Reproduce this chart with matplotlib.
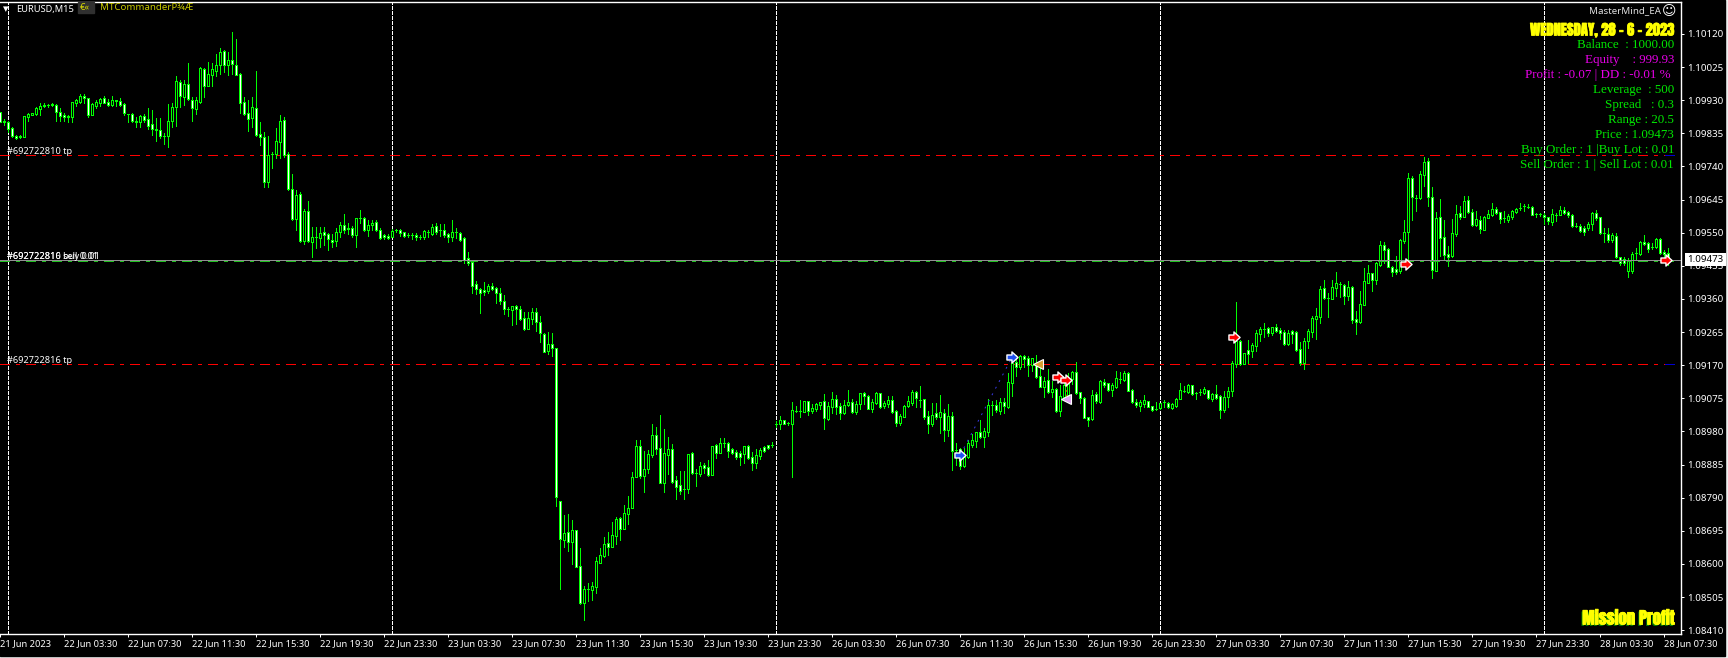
#!/usr/bin/env python3
import numpy as np
import matplotlib
matplotlib.use("Agg")
import matplotlib.pyplot as plt
import matplotlib.patheffects as pe
from matplotlib.path import Path
from matplotlib.patches import Rectangle

# M15 candles, prices as 1 + value / 1e5
opens = [9897,9870,9867,9851,9827,9827,9823,9883,9887,9890,9906,9912,9915,9918,9916,9897,
	9887,9884,9881,9921,9926,9942,9935,9888,9914,9921,9935,9925,9915,9930,9928,9918,
	9889,9891,9870,9868,9886,9875,9861,9846,9845,9828,9826,9870,9910,9982,9940,9977,
	9931,9906,9926,10019,9972,10002,10014,10031,10071,10031,10044,10031,10005,9925,9892,9879,
	9907,9832,9824,9694,9776,9776,9811,9873,9775,9674,9588,9660,9527,9611,9524,9537,
	9535,9551,9545,9529,9525,9552,9571,9563,9564,9543,9591,9591,9558,9571,9580,9558,
	9542,9541,9539,9558,9558,9551,9543,9542,9543,9539,9539,9551,9546,9569,9557,9558,
	9545,9537,9551,9550,9534,9477,9466,9403,9389,9386,9383,9397,9392,9377,9354,9331,
	9328,9340,9331,9306,9274,9303,9323,9294,9260,9211,9231,9219,8781,8669,8692,8663,
	8697,8594,8488,8528,8525,8534,8603,8623,8660,8649,8680,8732,8700,8743,8761,8849,
	8938,8852,8872,8913,8970,8933,8832,8913,8930,8841,8827,8815,8815,8918,8861,8858,
	8884,8878,8855,8941,8918,8947,8947,8930,8921,8918,8915,8938,8907,8890,8910,8936,
	8941,8941,9001,9001,9013,9004,9001,9039,9039,9036,9067,9039,9045,9056,9067,9016,
	9050,9073,9053,9033,9056,9065,9036,9059,9090,9082,9045,9062,9090,9053,9059,9070,
	9039,9004,9022,9053,9062,9093,9070,9073,9024,9001,9033,9022,9033,8984,9024,8927,
	8930,8881,8907,8941,8953,8979,8964,8979,9056,9056,9039,9065,9050,9119,9179,9165,
	9196,9191,9171,9171,9139,9108,9128,9093,9102,9039,9079,9085,9131,9151,9093,9076,
	9022,9016,9088,9065,9122,9119,9099,9108,9131,9128,9148,9099,9065,9053,9059,9067,
	9053,9045,9047,9065,9062,9047,9053,9073,9096,9093,9113,9090,9093,9090,9099,9073,
	9088,9082,9042,9079,9096,9174,9240,9174,9214,9211,9225,9260,9274,9277,9262,9280,
	9271,9265,9231,9268,9265,9217,9176,9240,9265,9303,9308,9392,9363,9360,9392,9403,
	9400,9368,9394,9303,9294,9343,9406,9435,9414,9457,9515,9503,9452,9446,9440,9526,
	9552,9707,9650,9650,9716,9756,9653,9440,9595,9538,9489,9483,9546,9607,9595,9644,
	9609,9572,9587,9558,9592,9601,9618,9609,9592,9587,9595,9609,9621,9627,9624,9624,
	9604,9604,9601,9595,9581,9601,9601,9615,9609,9601,9569,9569,9564,9564,9575,9607,
	9595,9549,9546,9529,9541,9480,9475,9440,9440,9492,9489,9523,9520,9509,9509,9532,
	9495,9492]
closes = [9868,9866,9848,9826,9822,9823,9885,9890,9894,9907,9913,9916,9915,9915,9897,9885,
	9883,9882,9924,9931,9942,9935,9888,9918,9925,9934,9923,9917,9931,9927,9915,9892,
	9889,9871,9867,9885,9873,9857,9846,9845,9826,9828,9870,9911,9985,9942,9977,9933,
	9907,9931,10022,9972,10005,10020,10031,10069,10031,10045,10035,10003,9923,9891,9877,9910,
	9831,9824,9694,9773,9776,9814,9870,9773,9674,9590,9658,9527,9613,9525,9537,9537,
	9548,9544,9531,9522,9552,9572,9558,9560,9543,9591,9591,9558,9571,9579,9558,9534,
	9537,9534,9556,9558,9548,9541,9543,9542,9537,9539,9555,9551,9566,9553,9557,9543,
	9537,9551,9551,9529,9472,9462,9397,9389,9377,9380,9397,9389,9377,9354,9331,9331,
	9340,9331,9303,9274,9306,9323,9294,9262,9208,9231,9219,8792,8672,8689,8663,8697,
	8591,8488,8528,8528,8537,8609,8626,8657,8649,8683,8729,8700,8746,8761,8849,8938,
	8852,8872,8915,8970,8930,8832,8918,8930,8835,8821,8809,8815,8915,8861,8861,8881,
	8875,8855,8938,8918,8947,8947,8924,8918,8907,8907,8938,8904,8890,8913,8927,8924,
	8933,8941,9001,9013,9001,9004,9042,9039,9039,9067,9039,9047,9059,9065,9019,9053,
	9073,9050,9033,9056,9065,9036,9059,9090,9082,9045,9065,9090,9050,9062,9070,9036,
	9004,9024,9053,9067,9093,9076,9070,9022,9001,9027,9022,9036,8984,9024,8924,8927,
	8881,8907,8947,8956,8979,8964,8981,9056,9056,9042,9065,9053,9122,9176,9165,9196,
	9188,9171,9191,9136,9108,9125,9093,9102,9039,9082,9113,9125,9151,9090,9076,9019,
	9013,9085,9067,9125,9113,9099,9113,9133,9131,9148,9096,9065,9056,9065,9070,9050,
	9042,9045,9062,9065,9050,9059,9073,9099,9096,9113,9088,9090,9093,9102,9076,9088,
	9076,9042,9079,9096,9176,9240,9174,9205,9202,9228,9262,9274,9274,9262,9280,9268,
	9262,9231,9262,9260,9214,9176,9240,9268,9306,9311,9389,9363,9363,9394,9406,9403,
	9368,9394,9300,9294,9346,9412,9435,9414,9463,9515,9500,9452,9437,9437,9529,9552,
	9707,9653,9650,9718,9753,9653,9443,9592,9535,9486,9480,9549,9604,9595,9641,9609,
	9572,9589,9561,9595,9604,9618,9607,9589,9592,9598,9612,9618,9621,9627,9624,9601,
	9604,9604,9595,9584,9604,9601,9615,9607,9601,9569,9569,9555,9552,9575,9607,9592,
	9549,9549,9529,9543,9480,9463,9463,9469,9489,9492,9523,9518,9503,9509,9532,9492,
	9489,9473]
highs = [9897,9875,9869,9854,9830,9830,9885,9892,9894,9910,9923,9923,9919,9921,9919,9907,
	9892,9888,9926,9933,9948,9948,9937,9921,9931,9937,9942,9934,9942,9931,9935,9921,
	9891,9892,9883,9888,9891,9907,9902,9878,9878,9835,9919,9921,10000,9988,9988,10036,
	9940,9938,10024,10021,10040,10036,10063,10079,10074,10069,10126,10105,10007,9940,9931,9938,
	10014,9868,9840,9827,9780,9849,9888,9883,9782,9718,9673,9668,9617,9641,9565,9565,
	9565,9567,9548,9546,9562,9582,9604,9577,9569,9591,9615,9594,9587,9587,9585,9563,
	9546,9546,9560,9560,9561,9553,9548,9548,9548,9543,9558,9558,9575,9577,9575,9575,
	9548,9587,9563,9553,9537,9496,9466,9412,9392,9409,9403,9406,9394,9392,9371,9337,
	9340,9343,9340,9323,9323,9334,9334,9311,9262,9265,9262,9219,8781,8741,8743,8726,
	8697,8646,8537,8545,8548,8620,8646,8677,8692,8720,8735,8735,8769,8795,8864,8956,
	8956,8924,8927,9001,8993,9027,8987,8964,8944,8852,8867,8867,8915,8921,8872,8892,
	8890,8898,8938,8944,8961,8961,8950,8933,8927,8924,8938,8941,8921,8930,8933,8938,
	8941,8950,9010,9024,9013,9007,9065,9053,9070,9067,9067,9059,9062,9065,9087,9065,
	9093,9085,9062,9070,9099,9073,9067,9090,9093,9085,9073,9093,9090,9067,9082,9082,
	9042,9030,9056,9082,9099,9096,9110,9073,9039,9062,9062,9085,9045,9059,9036,8947,
	8933,8933,8956,8973,8979,9013,8990,9073,9067,9070,9076,9076,9148,9179,9199,9199,
	9199,9196,9191,9199,9176,9136,9159,9125,9105,9113,9133,9148,9153,9179,9093,9079,
	9022,9099,9093,9128,9131,9119,9119,9153,9151,9153,9151,9102,9073,9070,9085,9067,
	9053,9065,9062,9070,9065,9062,9076,9119,9110,9116,9113,9093,9102,9108,9099,9090,
	9113,9085,9096,9108,9182,9351,9242,9205,9242,9234,9271,9280,9291,9280,9280,9288,
	9277,9271,9271,9271,9268,9237,9248,9274,9311,9334,9397,9414,9377,9414,9437,9409,
	9403,9412,9397,9326,9383,9449,9457,9435,9466,9526,9523,9506,9455,9483,9532,9587,
	9721,9713,9658,9727,9767,9764,9681,9609,9647,9587,9512,9589,9630,9627,9655,9655,
	9618,9612,9598,9598,9615,9635,9624,9609,9612,9604,9615,9621,9635,9632,9632,9627,
	9607,9607,9607,9595,9618,9607,9627,9624,9612,9604,9578,9575,9569,9581,9609,9615,
	9595,9564,9564,9549,9549,9480,9480,9478,9495,9506,9526,9543,9523,9520,9535,9535,
	9500,9506]
lows = [9868,9859,9840,9824,9820,9821,9823,9869,9887,9888,9888,9910,9910,9912,9871,9871,
	9871,9866,9866,9913,9921,9923,9883,9888,9907,9913,9921,9912,9912,9913,9912,9888,
	9866,9868,9854,9854,9866,9846,9830,9814,9821,9804,9797,9854,9856,9910,9916,9931,
	9871,9891,9921,9940,9971,9971,10000,10005,10012,10002,10005,10001,9892,9888,9843,9854,
	9827,9802,9680,9680,9735,9763,9763,9768,9673,9585,9558,9522,9518,9523,9481,9505,
	9508,9515,9499,9510,9512,9539,9548,9546,9537,9510,9579,9556,9541,9558,9556,9531,
	9533,9531,9537,9553,9541,9539,9539,9531,9529,9531,9533,9539,9544,9546,9541,9539,
	9524,9527,9534,9527,9462,9457,9377,9374,9320,9371,9377,9386,9349,9346,9317,9311,
	9285,9288,9300,9271,9274,9288,9268,9237,9208,9202,9196,8766,8528,8649,8637,8600,
	8591,8485,8439,8494,8497,8517,8603,8620,8626,8649,8657,8669,8700,8715,8761,8849,
	8847,8806,8861,8907,8915,8832,8806,8858,8832,8786,8801,8786,8804,8858,8824,8852,
	8861,8852,8855,8904,8918,8935,8907,8915,8901,8884,8890,8901,8870,8875,8901,8921,
	8930,8935,8993,8987,9001,8999,8849,9036,9022,9036,9027,9033,9039,9045,8987,9013,
	9033,9030,9016,9030,9053,9033,9030,9045,9059,9045,9036,9059,9047,9047,9050,9033,
	8996,8999,9022,9050,9056,9050,9050,9016,8976,8996,9016,8976,8953,8967,8870,8884,
	8872,8878,8904,8935,8935,8961,8935,8967,9027,9036,9030,9033,9047,9082,9139,9159,
	9165,9139,9153,9133,9108,9079,9090,9079,9036,9024,9079,9082,9116,9088,9062,9019,
	8996,9013,9062,9062,9108,9096,9082,9105,9119,9125,9096,9062,9050,9039,9050,9050,
	9039,9042,9045,9050,9047,9045,9050,9073,9093,9090,9085,9073,9085,9088,9073,9067,
	9073,9019,9036,9050,9082,9165,9171,9174,9176,9194,9211,9240,9251,9254,9257,9265,
	9245,9228,9228,9234,9211,9171,9159,9219,9251,9245,9291,9360,9308,9360,9369,9366,
	9346,9357,9291,9260,9291,9343,9406,9383,9403,9455,9463,9452,9426,9432,9435,9521,
	9466,9587,9612,9647,9684,9627,9420,9440,9483,9472,9455,9480,9541,9589,9595,9607,
	9569,9569,9549,9558,9592,9598,9604,9578,9581,9581,9589,9607,9615,9612,9621,9601,
	9595,9598,9575,9575,9572,9584,9601,9604,9595,9566,9566,9552,9543,9558,9558,9587,
	9546,9523,9523,9523,9478,9457,9457,9423,9435,9475,9486,9515,9495,9503,9506,9489,
	9480,9457]

tick_labels = ["21 Jun 2023",
	"22 Jun 03:30", "22 Jun 07:30", "22 Jun 11:30", "22 Jun 15:30", "22 Jun 19:30", "22 Jun 23:30",
	"23 Jun 03:30", "23 Jun 07:30", "23 Jun 11:30", "23 Jun 15:30", "23 Jun 19:30", "23 Jun 23:30",
	"26 Jun 03:30", "26 Jun 07:30", "26 Jun 11:30", "26 Jun 15:30", "26 Jun 19:30", "26 Jun 23:30",
	"27 Jun 03:30", "27 Jun 07:30", "27 Jun 11:30", "27 Jun 15:30", "27 Jun 19:30", "27 Jun 23:30",
	"28 Jun 03:30", "28 Jun 07:30"]
tick_idx = list(range(0, 417, 16))
day_idx = [2, 98, 194, 290, 386]
price_ticks = [1.10120 - 0.00095 * i for i in range(19)]

tp_prices = [1.09772, 1.09172]
bid_price = 1.09473
entry_price = 1.09470

blue_idx, blue_prices = [240, 253], [1.08913, 1.09194]
red_idx, red_prices = [264.3, 266.4, 308.3, 351.4, 416.4], [1.09135, 1.09127, 1.09250, 1.09459, 1.09472]
gold_idx, gold_prices = [259.4], [1.09172]
pink_idx, pink_prices = [266.4], [1.09072]

panel_lines = [
	("Balance  : 1000.00", "#00e800"),
	("Equity    : 999.93", "#e800e8"),
	("Profit : -0.07 | DD : -0.01 % ", "#e800e8"),
	("Leverage  : 500", "#00e800"),
	("Spread   : 0.3", "#00e800"),
	("Range : 20.5", "#00e800"),
	("Price : 1.09473", "#00e800"),
	("Buy Order : 1 |Buy Lot : 0.01", "#00e800"),
	("Sell Order : 1 | Sell Lot : 0.01", "#00e800"),
]

W, H = 1728, 658
GREEN = "#00ff00"
PX = 0.72  # one pixel in points
NARROW = ["Anton", "Oswald", "Barlow Condensed", "DejaVu Sans"]

plt.rcParams["font.family"] = ["Noto Sans", "DejaVu Sans"]
plt.rcParams["lines.scale_dashes"] = False

fig = plt.figure(figsize=(W / 100, H / 100), dpi=100, facecolor="#f0f0f0")
fig.patches.append(Rectangle((0, 2 / H), 1725 / W, 1 - 2 / H, transform=fig.transFigure, color="black", zorder=-5))

left, right, top, bottom = 0, 1680.5, 1.5, 634
ax = fig.add_axes([left / W, 1 - bottom / H, (right - left) / W, (bottom - top) / H], facecolor="black")

o, h, l, c = [1 + np.array(v) / 1e5 for v in (opens, highs, lows, closes)]
x = np.arange(len(o))
ax.set_xlim(-0.075, 420.05)
ax.set_ylim(1 + 8399 / 1e5, 1 + 10213 / 1e5)

# wicks, then bodies: bulls hollow, bears white
ax.vlines(x, l, h, color=GREEN, lw=PX, antialiased=False, zorder=2)
face = ["black" if cc > oo else "white" for oo, cc in zip(o, c)]
ax.bar(x, c - o, bottom=o, width=0.5, color=face, edgecolor=GREEN, lw=PX, antialiased=False, zorder=3)

# period separators
for k in day_idx:
	ax.axvline(k, color="white", lw=PX, ls=(0, (2.2, 1.4)), antialiased=False, zorder=1)

# order and price levels
dash = (0, (6.48, 4.32, 2.16, 4.32))
for p in tp_prices:
	ax.plot([0, 418.4], [p, p], color="#ff0000", lw=PX, ls=dash, antialiased=False, zorder=1.5)
	ax.plot([416.2, 418.4], [p, p], color="#0000d0", lw=PX, antialiased=False, zorder=1.6)
ax.axhline(bid_price, color="#909090", lw=PX, antialiased=False, zorder=4)
ax.plot([0, 418.4], [entry_price, entry_price], color="#20c020", lw=PX, ls=dash, antialiased=False, zorder=3.5)

# trade arrows
ax.plot(blue_idx, blue_prices, color="#3838e0", lw=PX, ls=(0, (1.4, 4)), zorder=4)
ax.plot([266.4, 266.4], [red_prices[1], pink_prices[0]], color="#ff0000", lw=PX, ls=(0, (1.4, 2)), zorder=4)
arrow = Path([(-1, -0.45), (-0.1, -0.45), (-0.1, -1), (1, 0), (-0.1, 1), (-0.1, 0.45), (-1, 0.45), (-1, -0.45)], closed=True)
ax.plot(blue_idx, blue_prices, ls="", marker=arrow, ms=8, mfc="#2050f0", mec="white", mew=1, zorder=6)
ax.plot(red_idx, red_prices, ls="", marker=arrow, ms=8, mfc="#ff0000", mec="white", mew=1, zorder=6)
ax.plot(gold_idx, gold_prices, ls="", marker="<", ms=7, mfc="#d8a030", mec="white", mew=0.8, zorder=6)
ax.plot(pink_idx, pink_prices, ls="", marker="<", ms=7, mfc="#e0a0f0", mec="white", mew=0.8, zorder=6)

# frame and axes
ax.spines["left"].set_visible(False)
for s in ("top", "right", "bottom"):
	ax.spines[s].set_color("white")
	ax.spines[s].set_linewidth(1)
ax.yaxis.tick_right()
ax.set_yticks(price_ticks, ["%.5f" % p for p in price_ticks])
ax.set_xticks(tick_idx, tick_labels, ha="left")
ax.tick_params(axis="x", colors="white", length=2.5, width=PX, pad=1.2, labelsize=6.7)
ax.tick_params(axis="y", colors="white", length=2.5, width=PX, pad=2.5, labelsize=7)

# everything below is placed in pixels of the window, as the terminal does
def win_text(px, py, s, **kw):
	return fig.text(px / W, 1 - py / H, s, va="center", **kw)

win_text(16, 9.5, "EURUSD,M15", color="white", fontsize=6.7)
win_text(3, 10, "\u25be", color="white", fontsize=8)
fig.patches.append(Rectangle((78 / W, 1 - 13 / H), 16 / W, 11 / H, transform=fig.transFigure, color="#303030", zorder=1))
win_text(80, 8, "\u20ac\u00ab", color="#d8d800", fontsize=6.7)
win_text(100, 8, "MTCommanderP\u00be\u00c6", color="#c8c800", fontsize=7)

win_text(1661.5, 10.5, "MasterMind_EA", color="#e0e0e0", fontsize=7, ha="right")
win_text(1669.5, 10.5, "\u263a", color="white", fontsize=10, ha="center", family="DejaVu Sans")

heavy = [pe.withStroke(linewidth=0.5, foreground="#ffff00")]
win_text(1674, 30, "WEDNESDAY, 28 - 6 - 2023", color="#ffff00", fontsize=10.5, ha="right",
	family=NARROW, weight="bold", path_effects=heavy)
for i, (txt, col) in enumerate(panel_lines):
	win_text(1674, 45 + 15 * i, txt, color=col, fontsize=9.4, ha="right", family="Liberation Serif")
shadow = [pe.withSimplePatchShadow(offset=(-1, -1), shadow_rgbFace="#008000", alpha=1), pe.withStroke(linewidth=0.5, foreground="#ffff00")]
win_text(1675, 618, "Mission Profit", color="#ffff00", fontsize=12, ha="right",
	family=NARROW, weight="bold", path_effects=shadow)

# order labels sit just above their levels, on the left of the chart
for p, s in [(tp_prices[0], "#692722810 tp"), (tp_prices[1], "#692722816 tp"),
		(entry_price, "#692722816 sell 0.01"), (entry_price, "#692722810 buy 0.01")]:
	ax.text(1.6, p - 0.00001, s, color="white", fontsize=6.6, va="bottom", zorder=7)

# current bid tag over the scale
ax.text(1.004, bid_price, "%.5f" % bid_price, transform=ax.get_yaxis_transform(), color="black", fontsize=7,
	va="center", ha="left", zorder=8, clip_on=False,
	bbox=dict(boxstyle="square,pad=0.25", facecolor="white", edgecolor="none"))

fig.savefig("out.png", dpi=100, facecolor=fig.get_facecolor())
